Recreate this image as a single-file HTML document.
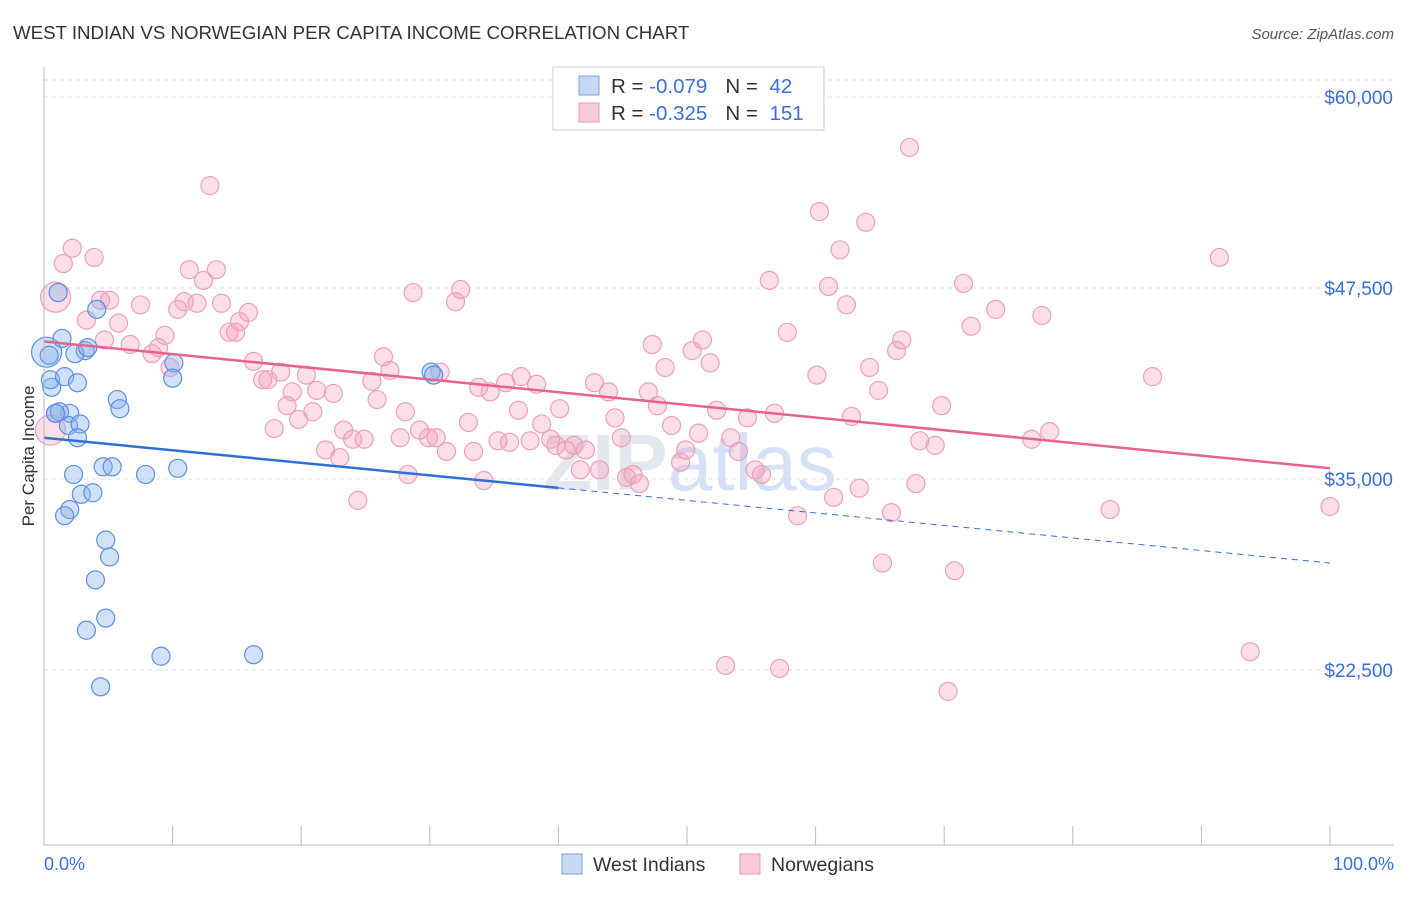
<!DOCTYPE html>
<html><head><meta charset="utf-8"><style>
body{margin:0;background:#fff;font-family:"Liberation Sans",sans-serif}
svg text{font-family:"Liberation Sans",sans-serif}
</style></head><body>
<svg id="chart" width="1406" height="892" xmlns="http://www.w3.org/2000/svg">
<text x="13" y="39" font-size="18.7" fill="#333">WEST INDIAN VS NORWEGIAN PER CAPITA INCOME CORRELATION CHART</text>
<text x="1394" y="39" font-size="15" fill="#555" text-anchor="end" font-style="italic">Source: ZipAtlas.com</text>
<text transform="translate(34,456) rotate(-90)" font-size="17" fill="#333" text-anchor="middle">Per Capita Income</text>
<text x="690" y="490" font-size="80" fill="#e3e8ef" text-anchor="middle" font-weight="bold">ZIP<tspan font-weight="normal" fill="#d5e2f5">atlas</tspan></text>
<g id="grid"></g><g id="pts"></g><g id="lines"></g>
<line x1="44" y1="845" x2="1394" y2="845" stroke="#bbb"/>
<line x1="44" y1="67" x2="44" y2="845" stroke="#bbb"/>
<text x="44" y="870" font-size="18" fill="#3a6fd8">0.0%</text>
<text x="1394" y="870" font-size="18" fill="#3a6fd8" text-anchor="end">100.0%</text>
<g>
<rect x="553" y="67" width="271" height="63" fill="#fff" stroke="#ccc"/>
<rect x="579" y="76" width="20" height="19" fill="#c5d9f5" stroke="#7da5e0"/>
<rect x="579" y="103" width="20" height="19" fill="#f9cbd9" stroke="#ec9ab4"/>
<text x="611" y="93" font-size="20.5" fill="#333">R = <tspan fill="#3a6fd8">-0.079</tspan><tspan dx="18">N = </tspan><tspan fill="#3a6fd8" dx="6">42</tspan></text>
<text x="611" y="120" font-size="20.5" fill="#333">R = <tspan fill="#3a6fd8">-0.325</tspan><tspan dx="18">N = </tspan><tspan fill="#3a6fd8" dx="6">151</tspan></text>
</g>
<g>
<rect x="562" y="854" width="20" height="20" fill="#c5d9f5" stroke="#7da5e0"/>
<text x="593" y="871" font-size="19.5" fill="#333">West Indians</text>
<rect x="740" y="854" width="20" height="20" fill="#f9cbd9" stroke="#ec9ab4"/>
<text x="771" y="871" font-size="19.5" fill="#333">Norwegians</text>
</g>
</svg>
<script>
const yTicks=[22500,35000,47500,60000];
const yTickLabels=["$22,500","$35,000","$47,500","$60,000"];
const xTicks=[0,10,20,30,40,50,60,70,80,90,100];
const blueX=[0.2,0.6,0.5,1.1,1.4,1.6,2.0,0.9,1.9,2.8,2.6,3.2,2.4,3.4,4.1,2.6,5.7,5.9,2.3,2.9,3.8,2.0,1.6,4.8,5.1,4.0,4.8,3.3,9.1,16.3,4.4,4.6,5.3,7.9,10.4,10.1,10.0,30.1,30.3,1.2,0.9,0.4];
const blueY=[43300,41000,41500,47200,44200,41700,39300,39300,38500,38600,37700,43400,43200,43600,46100,41300,40200,39600,35300,34000,34100,33000,32600,31000,29900,28400,25900,25100,23400,23500,21400,35800,35800,35300,35700,42600,41600,42000,41800,39400,39300,43100];
const pinkX=[0.9,1.5,2.2,3.9,4.4,5.1,3.3,5.8,4.7,6.7,7.5,8.4,8.9,9.4,9.8,10.9,10.4,11.3,11.9,12.9,13.4,12.4,13.8,14.4,14.9,15.2,15.9,16.3,17.0,17.4,17.9,18.4,18.9,19.3,19.8,20.4,20.9,21.2,21.9,22.5,23.0,23.3,24.0,24.4,24.9,25.5,25.9,26.4,26.9,27.7,28.1,28.3,28.7,29.2,29.9,30.5,30.8,31.3,32.0,32.4,33.0,33.4,33.8,34.2,34.7,35.3,35.9,36.2,36.9,37.1,37.8,38.3,38.7,39.4,39.8,40.1,40.6,41.2,41.7,42.1,42.8,43.2,43.9,44.4,44.9,45.3,45.8,46.3,47.0,47.3,47.7,48.3,48.8,49.5,49.9,50.4,50.9,51.2,51.8,52.3,53.0,53.4,54.0,54.7,55.3,55.8,56.4,56.8,57.2,57.8,58.6,60.1,60.3,61.0,61.4,61.9,62.4,62.8,63.4,63.9,64.2,64.9,65.2,65.9,66.3,66.7,67.3,67.8,68.1,69.3,69.8,70.3,70.8,71.5,72.1,74.0,76.8,77.6,78.2,82.9,86.2,91.4,93.8,100,0.5];
const pinkY=[46900,49100,50100,49500,46700,46700,45400,45200,44100,43800,46400,43200,43600,44400,42300,46600,46100,48700,46500,54200,48700,48000,46500,44600,44600,45300,45900,42700,41500,41500,38300,42000,39800,40700,38900,41800,39400,40800,36900,40600,36400,38200,37600,33600,37600,41400,40200,43000,42100,37700,39400,35300,47200,38200,37700,37700,42000,36800,46600,47400,38700,36800,41000,34900,40700,37500,41300,37400,39500,41700,37500,41200,38600,37600,37200,39600,36900,37200,35600,36900,41300,35600,40700,39000,37700,35100,35300,34700,40700,43800,39800,42300,38500,36100,36900,43400,38000,44100,42600,39500,22800,37700,36800,39000,35600,35300,48000,39300,22600,44600,32600,41800,52500,47600,33800,50000,46400,39100,34400,51800,42300,40800,29500,32800,43400,44100,56700,34700,37500,37200,39800,21100,29000,47800,45000,46100,37600,45700,38100,33000,41700,49500,23700,33200,38200];
const blueTrend=[37700,29500];
const pinkTrend=[44000,35700];
const NS="http://www.w3.org/2000/svg";
function xs(p){return 44+p*12.86;}
function ys(v){return 97+(60000-v)/65.445;}
function mk(t,a,parent){const e=document.createElementNS(NS,t);for(const k in a)e.setAttribute(k,a[k]);parent.appendChild(e);return e;}
const grid=document.getElementById('grid');
const topLine=mk('line',{x1:44,y1:80,x2:1394,y2:80,stroke:'#ddd','stroke-dasharray':'4,4'},grid);


yTicks.forEach((v,i)=>{
 const l=mk('line',{x1:44,y1:ys(v),x2:1394,y2:ys(v),stroke:'#ddd','stroke-dasharray':'4,4'},grid);
 
 
 const t=mk('text',{x:1393,y:ys(v)+7,'font-size':19,fill:'#3a6fd8','text-anchor':'end'},grid);
 t.textContent=yTickLabels[i];
 
 
});
xTicks.forEach(p=>{
 const l=mk('line',{x1:xs(p),y1:826,x2:xs(p),y2:845,stroke:'#bbb'},grid);
 
 
});
const pts=document.getElementById('pts');
pinkX.forEach((p,i)=>{
 const r=(i===0||i===pinkX.length-1)?15:9;
 const c=mk('circle',{cx:xs(p),cy:ys(pinkY[i]),r:r,fill:'rgba(244,160,190,0.35)',stroke:'#eca0ba','stroke-width':1.2},pts);
 
 
});
blueX.forEach((p,i)=>{
 const r=i===0?15:9;
 const c=mk('circle',{cx:xs(p),cy:ys(blueY[i]),r:r,fill:'rgba(140,180,235,0.4)',stroke:'#5d8fe0','stroke-width':1.2},pts);
 
 
});
const lines=document.getElementById('lines');
const bv40=blueTrend[0]+(blueTrend[1]-blueTrend[0])*0.4;
const b1=mk('line',{x1:xs(0),y1:ys(blueTrend[0]),x2:xs(40),y2:ys(bv40),stroke:'#2f6fd6','stroke-width':2.5},lines);


const b2=mk('line',{x1:xs(40),y1:ys(bv40),x2:xs(100),y2:ys(blueTrend[1]),stroke:'#2f6fd6','stroke-width':1,'stroke-dasharray':'6,5'},lines);


const pl=mk('line',{x1:xs(0),y1:ys(pinkTrend[0]),x2:xs(100),y2:ys(pinkTrend[1]),stroke:'#e8628f','stroke-width':2.5},lines);


</script>
</body></html>
